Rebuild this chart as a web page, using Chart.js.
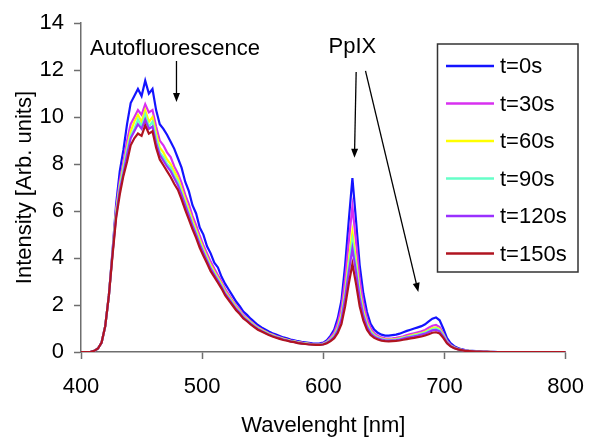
<!DOCTYPE html>
<html>
<head>
<meta charset="utf-8">
<script src="https://cdn.jsdelivr.net/npm/chart.js@4.4.0/dist/chart.umd.min.js"></script>
<style>
  html, body { margin: 0; padding: 0; background: #fff; }
  #wrap { width: 599px; height: 439px; }
</style>
</head>
<body>
<div id="wrap"><canvas id="spectra"></canvas></div>
<script>
// --- data ---
const wavelengths = [
  400, 402, 405, 408, 411, 414, 417, 420, 423, 426,
  429, 432, 435, 438, 441, 444, 447, 450, 453, 456,
  459, 462, 465, 468, 471, 474, 477, 480, 483, 486,
  489, 492, 495, 498, 501, 504, 507, 510, 513, 516,
  519, 522, 525, 528, 531, 534, 537, 540, 543, 546,
  549, 552, 555, 558, 561, 564, 567, 570, 573, 576,
  579, 582, 585, 588, 591, 594, 597, 600, 603, 606,
  609, 612, 615, 618, 621, 624, 627, 630, 633, 636,
  639, 642, 645, 648, 651, 654, 657, 660, 663, 666,
  669, 672, 675, 678, 681, 684, 687, 690, 693, 696,
  699, 702, 705, 708, 711, 714, 717, 720, 723, 726,
  729, 732, 735, 738, 741, 744, 747, 800
];

const t0s = [
  0, 0, 0, 0.01, 0.05, 0.15, 0.4, 1.1, 2.4, 4.3,
  6.3, 7.7, 8.6, 9.7, 10.6, 10.9, 11.2, 10.9, 11.55, 11.0,
  11.2, 10.3, 9.7, 9.5, 9.25, 8.95, 8.65, 8.25, 7.85, 7.25,
  6.85, 6.25, 5.9, 5.3, 5.0, 4.5, 4.2, 3.8, 3.6, 3.2,
  2.9, 2.65, 2.4, 2.15, 1.95, 1.72, 1.58, 1.42, 1.28, 1.15,
  1.05, 0.96, 0.87, 0.8, 0.74, 0.68, 0.62, 0.58, 0.53, 0.5,
  0.46, 0.43, 0.41, 0.39, 0.37, 0.36, 0.37, 0.4, 0.5, 0.7,
  0.95, 1.45, 2.2, 3.7, 5.6, 7.4, 5.6, 3.7, 2.5, 1.7,
  1.2, 0.95, 0.82, 0.74, 0.7, 0.7, 0.72, 0.74, 0.78, 0.84,
  0.9, 0.95, 1.0, 1.05, 1.1, 1.18, 1.3, 1.42, 1.47, 1.35,
  1.0, 0.6, 0.38, 0.25, 0.17, 0.12, 0.08, 0.06, 0.05, 0.04,
  0.03, 0.02, 0.02, 0.01, 0.01, 0, 0, 0
];
const t30s = [
  0, 0, 0, 0.01, 0.05, 0.15, 0.4, 1.1, 2.4, 4.2,
  6.1, 7.3, 8.1, 9.0, 9.7, 10.0, 10.3, 10.1, 10.55, 10.2,
  10.3, 9.6, 9.0, 8.8, 8.5, 8.3, 7.9, 7.6, 7.2, 6.7,
  6.3, 5.8, 5.4, 4.95, 4.55, 4.2, 3.85, 3.55, 3.27, 3.0,
  2.68, 2.44, 2.2, 1.98, 1.8, 1.59, 1.45, 1.31, 1.18, 1.06,
  0.97, 0.88, 0.8, 0.74, 0.68, 0.63, 0.57, 0.53, 0.49, 0.46,
  0.42, 0.4, 0.38, 0.36, 0.34, 0.33, 0.34, 0.37, 0.45, 0.62,
  0.83, 1.25, 1.9, 3.1, 4.7, 6.2, 4.7, 3.1, 2.1, 1.43,
  1.02, 0.8, 0.69, 0.62, 0.58, 0.57, 0.58, 0.6, 0.63, 0.67,
  0.72, 0.76, 0.8, 0.84, 0.88, 0.94, 1.03, 1.12, 1.15, 1.06,
  0.8, 0.48, 0.3, 0.2, 0.14, 0.1, 0.07, 0.05, 0.04, 0.03,
  0.02, 0.02, 0.01, 0.01, 0, 0, 0, 0
];
const t60s = [
  0, 0, 0, 0.01, 0.05, 0.15, 0.4, 1.1, 2.4, 4.2,
  6.0, 7.1, 7.9, 8.7, 9.4, 9.8, 10.1, 9.8, 10.3, 9.8,
  10.0, 9.3, 8.7, 8.5, 8.2, 8.0, 7.7, 7.4, 6.95, 6.5,
  6.05, 5.6, 5.2, 4.78, 4.4, 4.05, 3.7, 3.43, 3.16, 2.9,
  2.58, 2.36, 2.14, 1.92, 1.74, 1.53, 1.41, 1.27, 1.14, 1.03,
  0.94, 0.86, 0.78, 0.72, 0.66, 0.61, 0.56, 0.52, 0.48, 0.45,
  0.41, 0.39, 0.37, 0.35, 0.33, 0.32, 0.33, 0.35, 0.42, 0.55,
  0.72, 1.05, 1.6, 2.6, 3.9, 5.1, 3.9, 2.6, 1.78, 1.22,
  0.9, 0.72, 0.63, 0.57, 0.54, 0.53, 0.54, 0.55, 0.58, 0.62,
  0.66, 0.7, 0.74, 0.77, 0.81, 0.86, 0.94, 1.02, 1.05, 0.97,
  0.74, 0.45, 0.28, 0.19, 0.13, 0.09, 0.06, 0.05, 0.04, 0.03,
  0.02, 0.01, 0.01, 0.01, 0, 0, 0, 0
];
const t90s = [
  0, 0, 0, 0.01, 0.05, 0.15, 0.4, 1.1, 2.4, 4.2,
  5.9, 7.0, 7.8, 8.6, 9.2, 9.5, 9.9, 9.6, 10.1, 9.6,
  9.8, 9.1, 8.5, 8.3, 8.0, 7.85, 7.5, 7.25, 6.8, 6.35,
  5.92, 5.48, 5.09, 4.66, 4.3, 3.96, 3.61, 3.35, 3.09, 2.83,
  2.52, 2.3, 2.09, 1.87, 1.7, 1.5, 1.37, 1.24, 1.11, 1.0,
  0.91, 0.84, 0.76, 0.7, 0.64, 0.59, 0.54, 0.5, 0.46, 0.44,
  0.4, 0.37, 0.36, 0.34, 0.32, 0.31, 0.32, 0.34, 0.41, 0.53,
  0.69, 1.0, 1.5, 2.45, 3.65, 4.75, 3.65, 2.45, 1.66, 1.15,
  0.85, 0.69, 0.6, 0.55, 0.52, 0.51, 0.52, 0.53, 0.56, 0.6,
  0.64, 0.67, 0.71, 0.74, 0.78, 0.82, 0.9, 0.97, 1.0, 0.93,
  0.71, 0.43, 0.27, 0.18, 0.12, 0.09, 0.06, 0.04, 0.03, 0.03,
  0.02, 0.01, 0.01, 0, 0, 0, 0, 0
];
const t120s = [
  0, 0, 0, 0.01, 0.05, 0.15, 0.4, 1.1, 2.4, 4.2,
  5.8, 6.9, 7.6, 8.4, 9.1, 9.4, 9.7, 9.5, 9.9, 9.5,
  9.6, 8.9, 8.4, 8.15, 7.9, 7.7, 7.4, 7.1, 6.7, 6.25,
  5.82, 5.39, 5.0, 4.58, 4.23, 3.89, 3.55, 3.29, 3.04, 2.78,
  2.48, 2.27, 2.05, 1.84, 1.67, 1.47, 1.35, 1.21, 1.09, 0.98,
  0.9, 0.82, 0.74, 0.68, 0.63, 0.58, 0.53, 0.5, 0.45, 0.43,
  0.39, 0.37, 0.35, 0.33, 0.32, 0.31, 0.31, 0.33, 0.39, 0.5,
  0.65, 0.93, 1.4, 2.3, 3.4, 4.4, 3.4, 2.3, 1.56, 1.08,
  0.8, 0.66, 0.58, 0.53, 0.5, 0.49, 0.5, 0.51, 0.53, 0.57,
  0.61, 0.64, 0.67, 0.7, 0.74, 0.78, 0.85, 0.92, 0.94, 0.88,
  0.67, 0.41, 0.26, 0.17, 0.12, 0.08, 0.06, 0.04, 0.03, 0.02,
  0.02, 0.01, 0.01, 0, 0, 0, 0, 0
];
const t150s = [
  0, 0, 0, 0.01, 0.05, 0.15, 0.4, 1.1, 2.4, 4.1,
  5.7, 6.7, 7.5, 8.1, 8.8, 9.1, 9.3, 9.2, 9.65, 9.3,
  9.4, 8.7, 8.2, 7.95, 7.7, 7.45, 7.15, 6.9, 6.5, 6.05,
  5.65, 5.23, 4.86, 4.44, 4.1, 3.78, 3.44, 3.2, 2.95, 2.7,
  2.41, 2.2, 1.99, 1.78, 1.62, 1.43, 1.31, 1.18, 1.06, 0.95,
  0.87, 0.8, 0.72, 0.66, 0.61, 0.56, 0.51, 0.48, 0.44, 0.42,
  0.38, 0.36, 0.34, 0.32, 0.31, 0.3, 0.3, 0.32, 0.37, 0.46,
  0.59, 0.82, 1.2, 1.95, 2.9, 3.75, 2.9, 1.95, 1.35, 0.95,
  0.72, 0.6, 0.53, 0.48, 0.46, 0.45, 0.46, 0.47, 0.49, 0.52,
  0.55, 0.58, 0.6, 0.63, 0.66, 0.7, 0.76, 0.82, 0.84, 0.79,
  0.6, 0.37, 0.24, 0.16, 0.11, 0.08, 0.05, 0.04, 0.03, 0.02,
  0.02, 0.01, 0.01, 0, 0, 0, 0, 0
];

const seriesLabels = ['t=0s', 't=30s', 't=60s', 't=90s', 't=120s', 't=150s'];
const seriesValues = [t0s, t30s, t60s, t90s, t120s, t150s];
const seriesColors = ['#1414ff', '#d830f0', '#ffff00', '#66ffc8', '#9a30ff', '#b01420'];

const xTickValues = [400, 500, 600, 700, 800];
const yTickValues = [0, 2, 4, 6, 8, 10, 12, 14];

// annotations (in data units)
const noteTexts = [
  { text: 'Autofluorescence', x: 407.4, y: 12.66, align: 'left' },
  { text: 'PpIX', x: 624, y: 12.74, align: 'center' }
];
const noteArrows = [
  { x1: 478.8, y1: 12.39, x2: 478.8, y2: 10.65 },
  { x1: 627.1, y1: 11.92, x2: 625.7, y2: 8.27 },
  { x1: 634.8, y1: 11.97, x2: 678.4, y2: 2.56 }
];

const FONT = '"Liberation Sans", Arial, sans-serif';

// --- dibujo de anotaciones y leyenda ---
const drawArrow = (ctx, x1, y1, x2, y2) => {
  const ang = Math.atan2(y2 - y1, x2 - x1);
  const len = 9, half = 3.5;
  ctx.beginPath();
  ctx.moveTo(x1, y1);
  ctx.lineTo(x2 - Math.cos(ang) * len * 0.8, y2 - Math.sin(ang) * len * 0.8);
  ctx.stroke();
  ctx.beginPath();
  ctx.moveTo(x2, y2);
  ctx.lineTo(x2 - Math.cos(ang) * len - Math.sin(ang) * half, y2 - Math.sin(ang) * len + Math.cos(ang) * half);
  ctx.lineTo(x2 - Math.cos(ang) * len + Math.sin(ang) * half, y2 - Math.sin(ang) * len - Math.cos(ang) * half);
  ctx.closePath();
  ctx.fill();
};

const overlayPlugin = {
  id: 'overlay',
  afterDraw(chart) {
    const ctx = chart.ctx;
    const xs = chart.scales.x, ys = chart.scales.y;
    ctx.save();
    ctx.fillStyle = '#000';
    ctx.strokeStyle = '#000';
    ctx.lineWidth = 1.3;
    ctx.font = '22px ' + FONT;
    ctx.textBaseline = 'alphabetic';
    noteTexts.forEach(n => {
      ctx.textAlign = n.align;
      ctx.fillText(n.text, xs.getPixelForValue(n.x), ys.getPixelForValue(n.y));
    });
    noteArrows.forEach(a => {
      drawArrow(ctx, xs.getPixelForValue(a.x1), ys.getPixelForValue(a.y1),
                xs.getPixelForValue(a.x2), ys.getPixelForValue(a.y2));
    });

    // leyenda
    const box = { left: 437.5, top: 44, width: 140.5, height: 228 };
    ctx.lineWidth = 1.5;
    ctx.strokeStyle = '#333';
    ctx.strokeRect(box.left, box.top, box.width, box.height);
    ctx.textAlign = 'left';
    ctx.textBaseline = 'middle';
    seriesLabels.forEach((label, i) => {
      const y = 66 + i * 37.5;
      ctx.strokeStyle = seriesColors[i];
      ctx.lineWidth = 2.5;
      ctx.beginPath();
      ctx.moveTo(446, y);
      ctx.lineTo(494, y);
      ctx.stroke();
      ctx.fillStyle = '#000';
      ctx.fillText(label, 500, y + 1);
    });
    ctx.restore();
  }
};

const datasets = seriesLabels.map((label, i) => ({
  label: label,
  data: wavelengths.map((w, j) => ({ x: w, y: seriesValues[i][j] })),
  borderColor: seriesColors[i],
  borderWidth: 2.2,
  pointRadius: 0,
  tension: 0,
  fill: false,
  order: seriesLabels.length - 1 - i
}));

new Chart(document.getElementById('spectra'), {
  type: 'line',
  data: { datasets: datasets },
  options: {
    responsive: true,
    maintainAspectRatio: false,
    animation: false,
    layout: { padding: { top: 18, right: 32, bottom: 0, left: 0 } },
    plugins: {
      legend: { display: false },
      tooltip: { enabled: false }
    },
    scales: {
      x: {
        type: 'linear',
        min: 400,
        max: 800,
        afterBuildTicks: (scale) => { scale.ticks = xTickValues.map(v => ({ value: v })); },
        afterFit: (scale) => { scale.height = 87; },
        grid: { drawOnChartArea: false, drawTicks: true, tickLength: 7, tickColor: '#6e6e6e', tickWidth: 1.5 },
        border: { display: true, color: '#6e6e6e', width: 1.5 },
        ticks: { color: '#000', font: { family: FONT, size: 22 }, padding: 15, maxRotation: 0 },
        title: { display: true, text: 'Wavelenght [nm]', color: '#000', font: { family: FONT, size: 22 }, padding: { top: 0, bottom: 0 } }
      },
      y: {
        min: 0,
        max: 14,
        afterBuildTicks: (scale) => { scale.ticks = yTickValues.map(v => ({ value: v })); },
        afterFit: (scale) => { scale.width = 81; },
        grid: { drawOnChartArea: false, drawTicks: true, tickLength: 7, tickColor: '#6e6e6e', tickWidth: 1.5 },
        border: { display: true, color: '#6e6e6e', width: 1.5 },
        ticks: { color: '#000', font: { family: FONT, size: 22 }, padding: 10 },
        title: { display: true, text: 'Intensity [Arb. units]', color: '#000', font: { family: FONT, size: 22 }, padding: { top: 12, bottom: 0 } }
      }
    }
  },
  plugins: [overlayPlugin]
});
</script>
</body>
</html>
